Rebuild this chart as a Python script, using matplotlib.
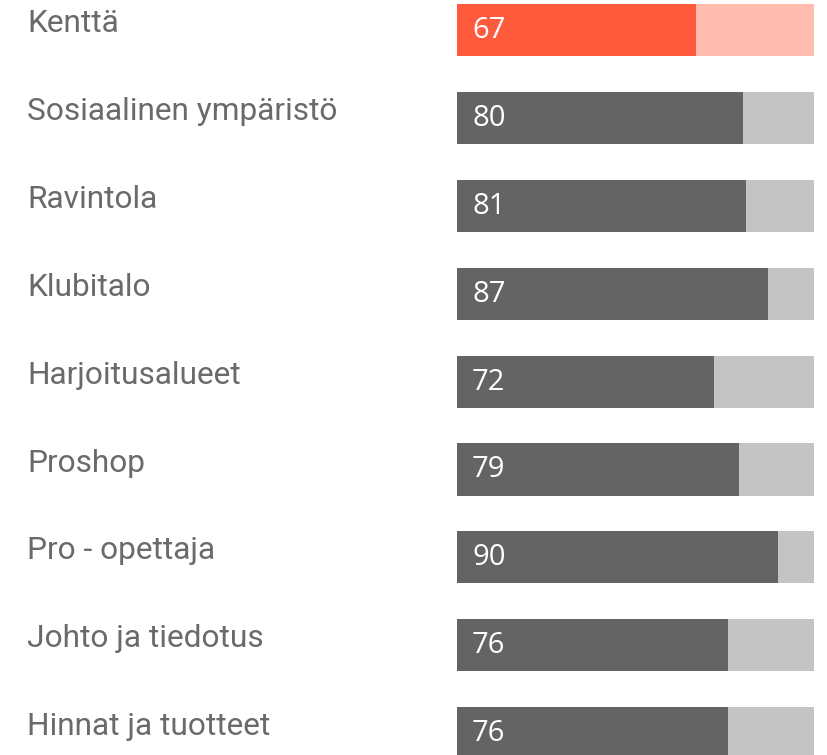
import matplotlib
matplotlib.use("Agg")
import matplotlib.pyplot as plt

categories = ["Kenttä", "Sosiaalinen ympäristö", "Ravintola", "Klubitalo",
              "Harjoitusalueet", "Proshop", "Pro - opettaja",
              "Johto ja tiedotus", "Hinnat ja tuotteet"]
values = [67, 80, 81, 87, 72, 79, 90, 76, 76]
max_value = 100
highlight = "Kenttä"

fig = plt.figure(figsize=(8.28, 7.55), dpi=100)
ax = fig.add_axes([0, 0, 1, 1])
ax.set_xlim(-128.0, 103.9)
ax.set_ylim(8.248, -0.341)
ax.axis("off")

bar_h = 0.592
for i, (cat, v) in enumerate(zip(categories, values)):
    if cat == highlight:
        fg, bg = "#FF5A3C", "#FFBCAF"
    else:
        fg, bg = "#646464", "#C4C4C4"
    ax.barh(i, max_value, height=bar_h, left=0, color=bg, linewidth=0)
    ax.barh(i, v, height=bar_h, left=0, color=fg, linewidth=0)
    ax.text(-120.4, i + 0.023, cat, ha="left", va="baseline",
            fontsize=22.8, color="#6a6a6a", family=["Roboto", "DejaVu Sans"])
    ax.text(4.2, i + 0.091, str(v), ha="left", va="baseline",
            fontsize=21, color="white", family=["Open Sans", "DejaVu Sans"])

fig.savefig("out.png", dpi=100)
